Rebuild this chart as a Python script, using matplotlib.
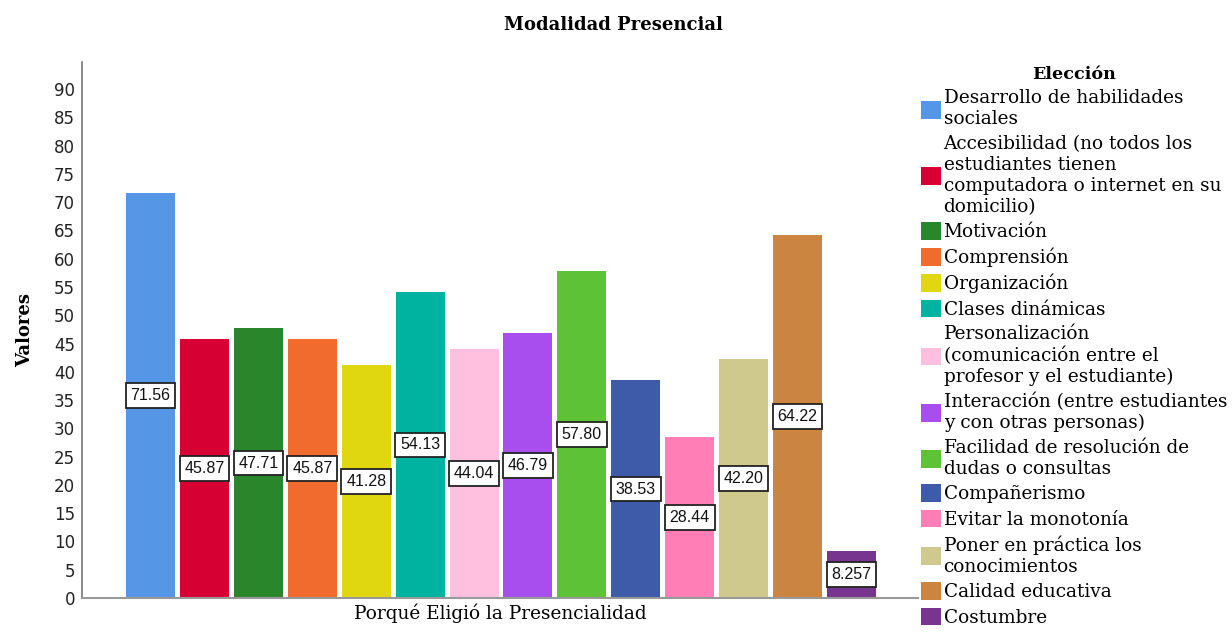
import matplotlib
matplotlib.use('agg')
import matplotlib.pyplot as plt
import numpy as np

categorias = [
    "Desarrollo de habilidades\nsociales",
    "Accesibilidad (no todos los\nestudiantes tienen\ncomputadora o internet en su\ndomicilio)",
    "Motivación",
    "Comprensión",
    "Organización",
    "Clases dinámicas",
    "Personalización\n(comunicación entre el\nprofesor y el estudiante)",
    "Interacción (entre estudiantes\ny con otras personas)",
    "Facilidad de resolución de\ndudas o consultas",
    "Compañerismo",
    "Evitar la monotonía",
    "Poner en práctica los\nconocimientos",
    "Calidad educativa",
    "Costumbre",
]
valores = [71.56, 45.87, 47.71, 45.87, 41.28, 54.13, 44.04, 46.79,
           57.80, 38.53, 28.44, 42.20, 64.22, 8.257]
etiquetas = ["71.56", "45.87", "47.71", "45.87", "41.28", "54.13", "44.04",
             "46.79", "57.80", "38.53", "28.44", "42.20", "64.22", "8.257"]
colores = ["#5596E6", "#D70033", "#29862A", "#F26B2E", "#E1D711", "#00B2A0",
           "#FFC0DF", "#A84EEF", "#5EC237", "#3D5BA9", "#FF7EB6", "#D0C98E",
           "#CB8540", "#78358F"]
yticks = list(range(0, 95, 5))

fig = plt.figure(figsize=(12.32, 6.34), dpi=100)
ax = fig.add_axes([82 / 1232, 36 / 634, (918 - 82) / 1232, (598 - 62) / 634])

x = np.arange(len(valores))
bars = ax.bar(x, valores, width=0.91, color=colores, label=categorias)
ax.set_xlim(-1.272, 14.235)
ax.set_ylim(0, 94.8)

for xi, v, t in zip(x, valores, etiquetas):
    ax.text(xi, v / 2, t, ha='center', va='center', fontsize=11.5,
            family='Liberation Sans', color='#111111',
            bbox=dict(boxstyle='square,pad=0.3', fc='white', ec='#222222', lw=1.3))

ax.set_yticks(yticks)
ax.set_yticklabels([str(t) for t in yticks], fontsize=12, color='#222222')
ax.tick_params(axis='y', length=0, pad=5)
ax.set_xticks([])
for s in ['top', 'right']:
    ax.spines[s].set_visible(False)
ax.spines['left'].set_color('#777777')
ax.spines['bottom'].set_color('#999999')
ax.spines['left'].set_linewidth(1.2)
ax.spines['bottom'].set_linewidth(1.5)

ax.set_xlabel("Porqué Eligió la Presencialidad", family='DejaVu Serif',
              fontsize=13.3, labelpad=4)
ax.set_ylabel("Valores", family='DejaVu Serif', fontsize=13, fontweight='bold',
              labelpad=14)
fig.text(613 / 1232, 1 - 25 / 634, "Modalidad Presencial", family='DejaVu Serif',
         fontsize=13, fontweight='bold', ha='center', va='center')

leg = fig.legend(handles=list(bars), labels=categorias, loc='upper left',
                 bbox_to_anchor=(921 / 1232, 1 - 66 / 634), frameon=False,
                 prop=dict(family='DejaVu Serif', size=13.3),
                 title="Elección",
                 title_fontproperties=dict(family='DejaVu Serif', size=12.6, weight='bold'),
                 handlelength=1.1, handleheight=1.1, handletextpad=0.12,
                 labelspacing=0.35, borderaxespad=0, borderpad=0)
for t in leg.get_texts():
    t.set_linespacing(1.21)

fig.savefig("out.png", dpi=100)
